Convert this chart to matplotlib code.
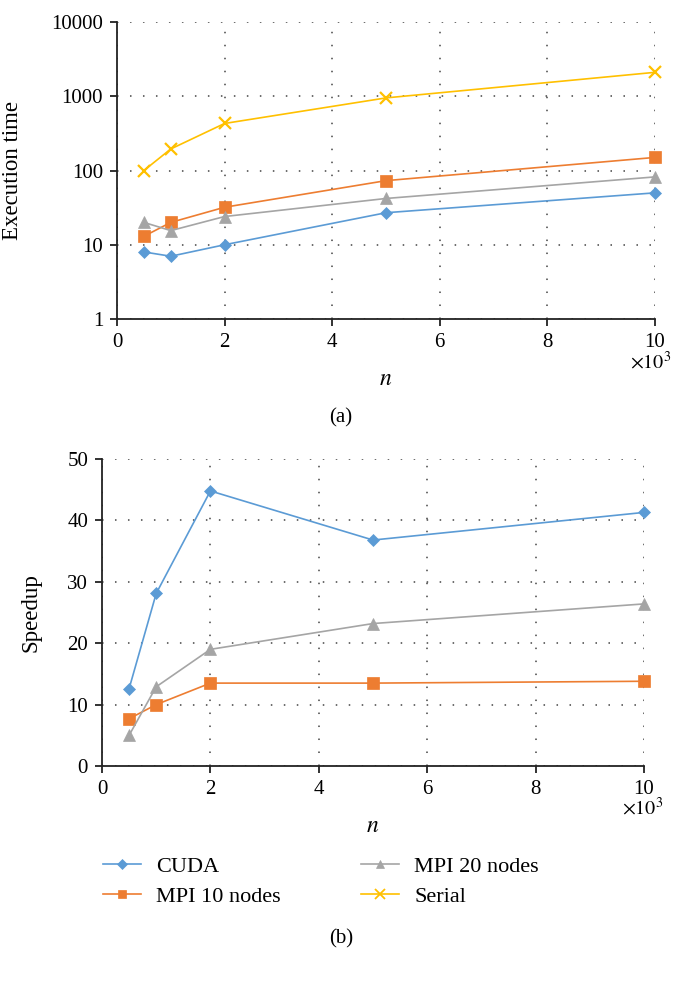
import matplotlib
matplotlib.use("Agg")
import matplotlib.pyplot as plt
from matplotlib.lines import Line2D

plt.rcParams['font.family'] = ['Liberation Serif', 'DejaVu Serif']
plt.rcParams['mathtext.fontset'] = 'stix'

n = [0.5, 1, 2, 5, 10]  # x 10^3
time_cuda = [8, 7, 10, 27, 50]
time_mpi10 = [13, 20, 32, 73, 150]
time_mpi20 = [20, 15.5, 24, 42, 82]
time_serial = [100, 195, 430, 950, 2100]

speed_cuda = [12.6, 28.1, 44.8, 36.8, 41.3]
speed_mpi10 = [7.7, 10.0, 13.5, 13.5, 13.8]
speed_mpi20 = [5.0, 12.9, 19.0, 23.2, 26.4]

labels = ['CUDA', 'MPI 10 nodes', 'MPI 20 nodes', 'Serial']
colors = {'CUDA': '#5B9BD5', 'MPI 10 nodes': '#ED7D31', 'MPI 20 nodes': '#A5A5A5', 'Serial': '#FFC000'}
markers = {'CUDA': 'D', 'MPI 10 nodes': 's', 'MPI 20 nodes': '^', 'Serial': 'x'}
msizes = {'CUDA': 6.5, 'MPI 10 nodes': 8.5, 'MPI 20 nodes': 8.5, 'Serial': 9}

fig = plt.figure(figsize=(6.83, 9.82), dpi=100)

def style(ax):
    for s in ['top', 'right']:
        ax.spines[s].set_visible(False)
    ax.spines['left'].set_color('#222222')
    ax.spines['bottom'].set_color('#222222')
    ax.spines['left'].set_linewidth(1.3)
    ax.spines['bottom'].set_linewidth(1.3)
    ax.grid(True, which='major', linestyle=(0, (1, 7.5)), color='#444444', linewidth=1.1)
    ax.tick_params(labelsize=15, direction='out', length=5, width=1.3, color='#222222', pad=5)
    ax.set_axisbelow(True)
    ax.set_xlim(0, 10)
    ax.set_xticks([0, 2, 4, 6, 8, 10])

def plot_series(ax, name, y):
    ax.plot(n, y, color=colors[name], marker=markers[name], markersize=msizes[name],
            linewidth=1.2, markeredgewidth=1.6 if name == 'Serial' else 0.5,
            markeredgecolor=colors[name], label=name, clip_on=False)

# Top
ax1 = fig.add_axes([117 / 683, 1 - 319 / 982, 538 / 683, 297 / 982])
style(ax1)
ax1.set_yscale('log')
ax1.set_ylim(1, 10000)
ax1.set_yticks([1, 10, 100, 1000, 10000])
ax1.set_yticklabels(['1', '10', '100', '1000', '10000'])
ax1.minorticks_off()
ax1.set_xticks([0, 2, 4, 6, 8, 10])
plot_series(ax1, 'CUDA', time_cuda)
plot_series(ax1, 'MPI 10 nodes', time_mpi10)
plot_series(ax1, 'MPI 20 nodes', time_mpi20)
plot_series(ax1, 'Serial', time_serial)
ax1.set_ylabel('Execution time', fontsize=16.5)
ax1.yaxis.set_label_coords(-0.175, 0.5)
ax1.set_xlabel('$n$', fontsize=17, labelpad=12)
ax1.text(1.03, -0.148, r'$\times 10^3$', transform=ax1.transAxes, fontsize=14.5, ha='right', va='center')
fig.text(341 / 683, 1 - 418 / 982, '(a)', ha='center', va='center', fontsize=15)

# Bottom
ax2 = fig.add_axes([102 / 683, 1 - 766 / 982, 542 / 683, 307 / 982])
style(ax2)
ax2.set_ylim(0, 50)
ax2.set_yticks([0, 10, 20, 30, 40, 50])
plot_series(ax2, 'CUDA', speed_cuda)
plot_series(ax2, 'MPI 10 nodes', speed_mpi10)
plot_series(ax2, 'MPI 20 nodes', speed_mpi20)
ax2.set_ylabel('Speedup', fontsize=16.5)
ax2.yaxis.set_label_coords(-0.111, 0.5)
ax2.set_xlabel('$n$', fontsize=17, labelpad=12)
ax2.text(1.035, -0.14, r'$\times 10^3$', transform=ax2.transAxes, fontsize=14.5, ha='right', va='center')
fig.text(341 / 683, 1 - 939 / 982, '(b)', ha='center', va='center', fontsize=15)

handles = [Line2D([0], [0], color=colors[l], marker=markers[l], markersize=msizes[l] * 0.75,
                  markeredgewidth=1.3 if l == 'Serial' else 0.5, linewidth=1.2) for l in labels]
fig.legend(handles, labels, loc='upper left', bbox_to_anchor=(103 / 683, 1 - 856 / 982), ncol=2,
           frameon=False, fontsize=16, columnspacing=3.6, handlelength=1.7, handletextpad=0.7,
           labelspacing=0.45, borderpad=0, borderaxespad=0)

fig.savefig('out.png', dpi=100)
